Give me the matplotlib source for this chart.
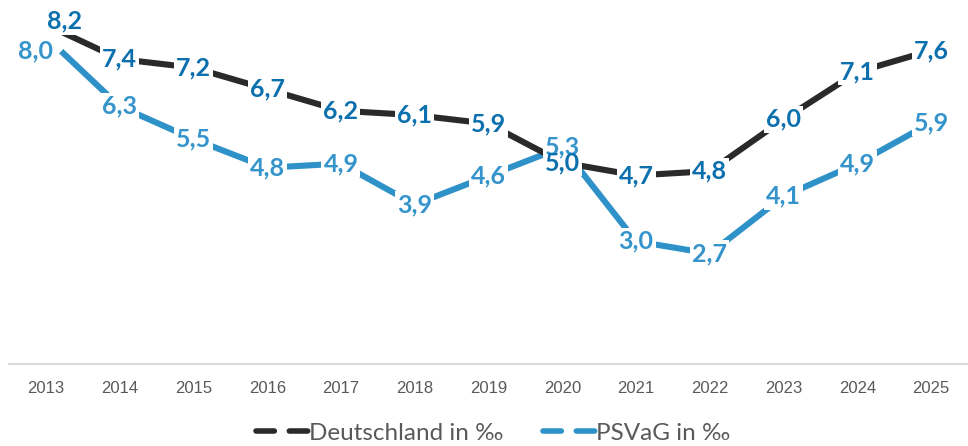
import matplotlib
matplotlib.use("Agg")
import matplotlib.pyplot as plt
from matplotlib.lines import Line2D

years = ["2013", "2014", "2015", "2016", "2017", "2018", "2019", "2020", "2021", "2022", "2023", "2024", "2025"]
deutschland = [8.2, 7.4, 7.2, 6.7, 6.2, 6.1, 5.9, 5.0, 4.7, 4.8, 6.0, 7.1, 7.6]
psvag = [8.0, 6.3, 5.5, 4.8, 4.9, 3.9, 4.6, 5.3, 3.0, 2.7, 4.1, 4.9, 5.9]
series_names = ["Deutschland in \u2030", "PSVaG in \u2030"]

line_colors = ["#2a2a2a", "#2e92c9"]
label_colors = ["#0b70ad", "#3594cb"]

W, H = 968, 446
fig = plt.figure(figsize=(W / 100, H / 100), dpi=100)
left, right, bottom, top = 9, 968, 364, 0
ax = fig.add_axes([left / W, (H - bottom) / H, (right - left) / W, (bottom - top) / H])
ax2 = ax.twinx()
ax.set_zorder(ax2.get_zorder() + 1)
ax.patch.set_visible(False)

x = list(range(len(years)))

ax2.plot(x, psvag, color=line_colors[1], lw=4.4, solid_capstyle="butt", zorder=2)
ax2.plot(x[:1], psvag[:1], "o", color="white", ms=29, mec="none", zorder=3)
ax.plot(x, deutschland, color=line_colors[0], lw=4.4, solid_capstyle="butt", zorder=2)
ax.plot(x[:1], deutschland[:1], "o", color="white", ms=26, mec="none", zorder=3)

ax.set_ylim(0.325, 8.77)
ax2.set_ylim(0.0, 8.9)
ax.set_xlim(-0.5, len(years) - 0.5)

# label offsets in points (first-year labels were nudged in the original)
offsets = [{0: (13.5, 2.5)}, {0: (-7.5, -10.0)}]

lab_font = dict(family=["Lato", "DejaVu Sans"], weight="bold", size=18)
box = dict(boxstyle="square,pad=0.08", fc="white", ec="none")
series = [(deutschland, ax.transData), (psvag, ax2.transData)]
for k, (vals, tr) in enumerate(series):
    for i, v in enumerate(vals):
        s = f"{v:.1f}".replace(".", ",")
        common = dict(xy=(x[i], v), xycoords=tr, xytext=offsets[k].get(i, (0, 0)),
                      textcoords="offset points", ha="center", va="center", **lab_font)
        # white box pass (hides the line under the label)
        ax.annotate(s, color="none", bbox=box, zorder=5, **common)
        # text pass
        ax.annotate(s, color=label_colors[k], zorder=7 - k, **common)

for a in (ax, ax2):
    for sp in ["top", "left", "right"]:
        a.spines[sp].set_visible(False)
    a.set_yticks([])
ax2.spines["bottom"].set_visible(False)
ax.spines["bottom"].set_color("#d9d9d9")
ax.spines["bottom"].set_linewidth(1.5)

ax.set_xticks(x)
ax.set_xticklabels(years, family=["Liberation Sans", "DejaVu Sans"], size=12, color="#595959")
ax.tick_params(axis="x", length=0, pad=12)

handles = [Line2D([0], [0], color=c, lw=4.0, linestyle=(0, (3.3, 2.7)), dash_capstyle="round")
           for c in line_colors]
fig.legend(handles, series_names, loc="center", bbox_to_anchor=(493 / W, 13 / H),
           ncol=2, frameon=False, handlelength=2.15, handletextpad=0.05, columnspacing=1.6,
           prop=dict(family=["Lato", "DejaVu Sans"], size=17.5), labelcolor="#595959")

fig.savefig("out.png", dpi=100)
